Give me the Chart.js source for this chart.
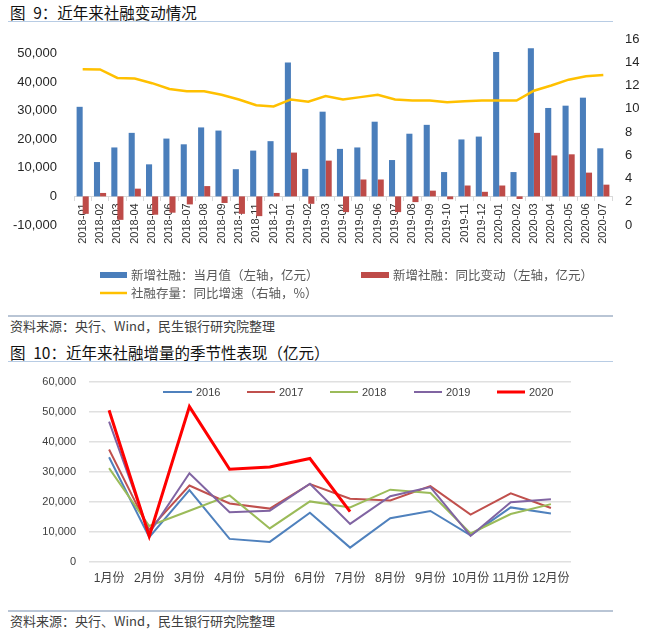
<!DOCTYPE html>
<html><head><meta charset="utf-8">
<script src="https://cdn.jsdelivr.net/npm/chart.js@4.4.1/dist/chart.umd.min.js"></script>
<style>
body{margin:0;background:#fff;width:654px;height:633px;position:relative;overflow:hidden;font-family:"Noto Sans CJK SC",sans-serif;}
.t{position:absolute;left:10px;font-size:15.5px;color:#111;line-height:1;white-space:nowrap}
.rule{position:absolute;left:8px;width:605px;}
.src{position:absolute;left:10px;font-size:13px;color:#404040;line-height:1;white-space:nowrap}
canvas{position:absolute;left:0}
</style></head><body>
<div class="t" style="top:5px">图&ensp;9：近年来社融变动情况</div>
<div class="rule" style="top:21px;height:1px;background:#b8cce4"></div>
<canvas id="c1" width="654" height="292" style="top:23px"></canvas>
<div class="rule" style="top:315px;height:2px;background:#b9c5d5"></div>
<div class="src" style="top:319px">资料来源：央行、Wind，民生银行研究院整理</div>
<div class="t" style="top:345px">图&ensp;10：近年来社融增量的季节性表现（亿元）</div>
<div class="rule" style="top:361px;height:1px;background:#b8cce4"></div>
<canvas id="c2" width="654" height="247" style="top:363px"></canvas>
<div class="rule" style="top:610px;height:2px;background:#b9c5d5"></div>
<div class="src" style="top:614px">资料来源：央行、Wind，民生银行研究院整理</div>
<script>
// ---- Chart 1 data ----
const months = ['2018-01','2018-02','2018-03','2018-04','2018-05','2018-06','2018-07','2018-08','2018-09','2018-10','2018-11','2018-12',
  '2019-01','2019-02','2019-03','2019-04','2019-05','2019-06','2019-07','2019-08','2019-09','2019-10','2019-11','2019-12',
  '2020-01','2020-02','2020-03','2020-04','2020-05','2020-06','2020-07'];
const newTSF = [31300,12000,17100,22200,11200,20200,18200,24100,23000,9500,16000,19300,
  46800,9600,29600,16600,17100,26100,12700,21900,25000,8500,19900,20900,
  50500,8500,51800,30900,31700,34500,16800];
const yoyChange = [-6100,1200,-8200,2700,-6400,-5700,-2800,3600,-2300,-6100,-6900,1200,
  15300,-2600,12500,-5500,5900,5900,-5500,-2000,2000,-1000,3800,1600,
  3800,-900,22200,14300,14700,8300,4100];
const stockGrowth = [13.4,13.38,12.65,12.6,12.2,11.7,11.5,11.5,11.2,10.8,10.3,10.2,
  10.8,10.6,11.1,10.8,11.0,11.2,10.8,10.7,10.7,10.55,10.65,10.7,
  10.7,10.7,11.55,12.0,12.5,12.8,12.9];
const leftTickValues = [-10000,0,10000,20000,30000,40000,50000];
const leftRange = [-10000, 55000];
const rightTickValues = [0,2,4,6,8,10,12,14,16];

// ---- Chart 2 data ----
const monthLabels = ['1月份','2月份','3月份','4月份','5月份','6月份','7月份','8月份','9月份','10月份','11月份','12月份'];
const s2016 = [34900,8300,24000,7700,6700,16400,4800,14600,17000,8900,18200,16200];
const s2017 = [37500,10800,25500,19500,17800,26000,21100,20500,25300,15800,22900,18000];
const s2018 = [31300,12000,17100,22200,11200,20200,18200,24100,23000,9500,16000,19300];
const s2019 = [46800,9600,29600,16600,17100,26100,12700,21900,25000,8700,19900,20900];
const s2020 = [50600,8600,51800,30900,31700,34500,16800];
const chart2TickValues = [0,10000,20000,30000,40000,50000,60000];

const latin = "'Liberation Sans','Noto Sans CJK SC',sans-serif";
const cjk = "'Noto Sans CJK SC',sans-serif";

const fixedLegend = {
  id: 'fixedLegend',
  afterDraw(chart, args, opts) {
    const ctx = chart.ctx;
    ctx.save();
    opts.items.forEach(it => {
      const ds = chart.data.datasets[it.dataset];
      if (it.kind === 'box') {
        ctx.fillStyle = ds.backgroundColor;
        ctx.fillRect(it.x, it.y - it.h / 2, it.w, it.h);
      } else {
        ctx.strokeStyle = ds.borderColor;
        ctx.lineWidth = ds.borderWidth;
        ctx.beginPath();
        ctx.moveTo(it.x, it.y);
        ctx.lineTo(it.x + it.w, it.y);
        ctx.stroke();
      }
      ctx.fillStyle = opts.color;
      ctx.font = opts.font;
      ctx.textBaseline = 'middle';
      ctx.textAlign = 'left';
      ctx.fillText(ds.label, it.x + it.w + it.gap, it.y + 0.5);
    });
    ctx.restore();
  }
};

const fmt = v => Number(v).toLocaleString('en-US');
const fixWidth = w => s => { s.width = w; s.paddingTop = 0; s.paddingBottom = 0; };

new Chart(document.getElementById('c1'), {
  type: 'bar',
  data: {
    labels: months,
    datasets: [
      {type: 'line', label: '社融存量：同比增速（右轴，%）', data: stockGrowth, yAxisID: 'y1',
       borderColor: '#FFC000', backgroundColor: '#FFC000', borderWidth: 2.5, pointRadius: 0, tension: 0, order: 0},
      {label: '新增社融：当月值（左轴，亿元）', data: newTSF, yAxisID: 'y', backgroundColor: '#4A7EBB',
       categoryPercentage: 0.7, barPercentage: 1, order: 1},
      {label: '新增社融：同比变动（左轴，亿元）', data: yoyChange, yAxisID: 'y', backgroundColor: '#BE4B48',
       categoryPercentage: 0.7, barPercentage: 1, order: 1}
    ]
  },
  options: {
    responsive: false, animation: false, devicePixelRatio: 1,
    layout: {padding: {top: 16, bottom: 90, left: 0, right: 0}},
    plugins: {
      legend: {display: false}, tooltip: {enabled: false},
      fixedLegend: {
        font: "12.5px " + cjk, color: '#595959',
        items: [
          {dataset: 1, kind: 'box', x: 100, y: 252, w: 27, h: 6, gap: 4},
          {dataset: 2, kind: 'box', x: 361, y: 252, w: 28, h: 6, gap: 4},
          {dataset: 0, kind: 'line', x: 100, y: 270, w: 27, gap: 4}
        ]
      }
    },
    scales: {
      x: {
        axis: 'x', position: {y: 0}, offset: true, z: 1,
        grid: {display: true, drawOnChartArea: false, drawTicks: true, tickLength: 4, color: '#d9d9d9', offset: true},
        border: {display: true, color: '#d9d9d9', width: 1},
        ticks: {autoSkip: false, minRotation: 90, maxRotation: 90, padding: 3, color: '#333',
                font: {family: latin, size: 11}}
      },
      y: {
        position: 'left', min: leftRange[0], max: leftRange[1],
        grid: {display: false, drawTicks: false}, border: {display: false},
        afterBuildTicks: s => { s.ticks = leftTickValues.map(v => ({value: v})); },
        ticks: {padding: 17, color: '#262626', font: {family: latin, size: 13}, callback: fmt},
        afterFit: fixWidth(74)
      },
      y1: {
        position: 'right', min: rightTickValues[0], max: rightTickValues[rightTickValues.length - 1],
        grid: {display: false, drawTicks: false}, border: {display: false},
        afterBuildTicks: s => { s.ticks = rightTickValues.map(v => ({value: v})); },
        ticks: {padding: 13, color: '#262626', font: {family: latin, size: 13}},
        afterFit: fixWidth(42)
      }
    }
  },
  plugins: [fixedLegend]
});

new Chart(document.getElementById('c2'), {
  type: 'line',
  data: {
    labels: monthLabels,
    datasets: [
      {label: '2016', data: s2016, borderColor: '#4F81BD', backgroundColor: '#4F81BD', borderWidth: 2, order: 5},
      {label: '2017', data: s2017, borderColor: '#C0504D', backgroundColor: '#C0504D', borderWidth: 2, order: 4},
      {label: '2018', data: s2018, borderColor: '#9BBB59', backgroundColor: '#9BBB59', borderWidth: 2, order: 3},
      {label: '2019', data: s2019, borderColor: '#8064A2', backgroundColor: '#8064A2', borderWidth: 2, order: 2},
      {label: '2020', data: s2020, borderColor: '#FF0000', backgroundColor: '#FF0000', borderWidth: 3, order: 1}
    ]
  },
  options: {
    responsive: false, animation: false, devicePixelRatio: 1,
    elements: {point: {radius: 0}, line: {tension: 0}},
    layout: {padding: {top: 19, bottom: 18, left: 0, right: 83}},
    plugins: {
      legend: {display: false}, tooltip: {enabled: false},
      fixedLegend: {
        font: "11px " + latin, color: '#404040',
        items: [
          {dataset: 0, kind: 'line', x: 163, y: 29, w: 29, gap: 4},
          {dataset: 1, kind: 'line', x: 247, y: 29, w: 28, gap: 4},
          {dataset: 2, kind: 'line', x: 330, y: 29, w: 28, gap: 4},
          {dataset: 3, kind: 'line', x: 414, y: 29, w: 28, gap: 4},
          {dataset: 4, kind: 'line', x: 497, y: 29, w: 28, gap: 4}
        ]
      }
    },
    scales: {
      x: {
        offset: true,
        grid: {display: false, drawTicks: false}, border: {display: false},
        ticks: {autoSkip: false, maxRotation: 0, padding: 9, color: '#404040', font: {family: latin, size: 12}},
        afterFit: s => { s.height = 30; }
      },
      y: {
        min: chart2TickValues[0], max: chart2TickValues[chart2TickValues.length - 1],
        grid: {color: '#e0e0e0', lineWidth: 1.5, drawTicks: false}, border: {display: false},
        afterBuildTicks: s => { s.ticks = chart2TickValues.map(v => ({value: v})); },
        ticks: {padding: 13, color: '#404040', font: {family: latin, size: 11}, callback: fmt},
        afterFit: fixWidth(89)
      }
    }
  },
  plugins: [fixedLegend]
});
</script>
</body></html>
